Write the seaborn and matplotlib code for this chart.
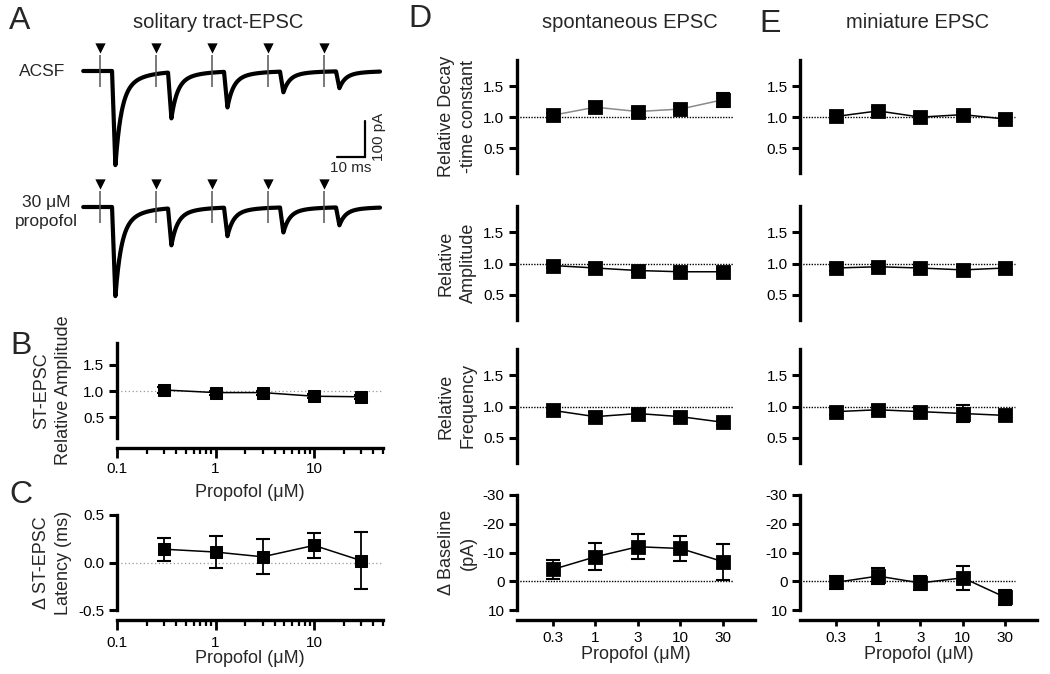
import numpy as np
import matplotlib
matplotlib.use("Agg")
import matplotlib.pyplot as plt
import seaborn as sns
from matplotlib.ticker import FixedLocator, LogLocator, NullFormatter

# ---- data ----
# A: evoked ST-EPSC trains (50 Hz), peak amplitudes in pA
stim_times_ms = [0, 20, 40, 60, 80]
acsf_amp_pA = [264, 128, 100, 58, 47]
propofol_amp_pA = [250, 103, 80, 70, 50]

# concentrations
conc_um = [0.3, 1, 3, 10, 30]
conc_labels = ["0.3", "1", "3", "10", "30"]

# B / C: ST-EPSC
st_amp = [1.02, 0.97, 0.97, 0.90, 0.89]
st_amp_err = [0.05, 0.04, 0.04, 0.04, 0.04]
st_lat = [0.14, 0.11, 0.06, 0.18, 0.02]
st_lat_err = [0.12, 0.165, 0.185, 0.135, 0.30]

# D: spontaneous EPSC
sp_decay = [1.03, 1.16, 1.09, 1.13, 1.28]
sp_decay_err = [0.04, 0.08, 0.05, 0.05, 0.11]
sp_amp = [0.97, 0.93, 0.89, 0.87, 0.87]
sp_amp_err = [0.04, 0.04, 0.03, 0.03, 0.04]
sp_freq = [0.94, 0.84, 0.89, 0.84, 0.75]
sp_freq_err = [0.04, 0.07, 0.05, 0.05, 0.04]
sp_base = [-4.1, -8.5, -12.0, -11.4, -6.8]
sp_base_err = [3.2, 4.7, 4.4, 4.2, 6.3]

# E: miniature EPSC
mini_decay = [1.01, 1.10, 1.00, 1.04, 0.97]
mini_decay_err = [0.04, 0.07, 0.04, 0.05, 0.04]
mini_amp = [0.93, 0.95, 0.93, 0.90, 0.93]
mini_amp_err = [0.04, 0.04, 0.04, 0.04, 0.04]
mini_freq = [0.92, 0.95, 0.92, 0.89, 0.86]
mini_freq_err = [0.06, 0.07, 0.07, 0.14, 0.06]
mini_base = [0.4, -1.8, 0.6, -1.2, 5.6]
mini_base_err = [2.2, 2.9, 2.3, 4.1, 2.5]

# ---- style ----
sns.set_theme(style="ticks")
plt.rcParams["font.family"] = ["Liberation Sans", "DejaVu Sans"]
plt.rcParams["axes.unicode_minus"] = False
plt.rcParams["axes.linewidth"] = 2.4

TICK_FS = 11
LABEL_FS = 13
TITLE_FS = 14.5
LETTER_FS = 23

W, H = 1050, 674
fig = plt.figure(figsize=(W / 100, H / 100), dpi=100)


def add_px_axes(left, top, right, bottom):
    return fig.add_axes([left / W, 1 - bottom / H, (right - left) / W, (bottom - top) / H])


def fig_text(x, y, s, **kw):
    fig.text(x / W, 1 - y / H, s, **kw)


def style_axis(ax, left_px, right_px, label_right_px, ylabel=None):
    ax.tick_params(axis="y", length=6, width=2.2, labelsize=TICK_FS, pad=3, colors="black")
    ax.tick_params(axis="x", length=4, width=2.0, labelsize=TICK_FS, pad=4, colors="black")
    for s in ax.spines.values():
        s.set_linewidth(2.4)
        s.set_color("black")
    if ylabel:
        ax.set_ylabel(ylabel, fontsize=LABEL_FS, linespacing=1.4)
        ax.yaxis.set_label_coords((label_right_px - left_px) / (right_px - left_px), 0.5)
    else:
        ax.set_ylabel("")


# ---- A: traces ----
latency_ms, rise_ms = 4.3, 1.2


def epsc_train(t, amps):
    y = np.zeros_like(t)
    for t0, a in zip(stim_times_ms, amps):
        dt = t - (t0 + latency_ms)
        rising = np.clip(dt / rise_ms, 0, 1)
        td = np.clip(dt - rise_ms, 0, None)
        shape = np.where(dt < rise_ms, rising, 0.75 * np.exp(-td / 2.0) + 0.25 * np.exp(-td / 7.0))
        y -= a * shape
    return y


px_per_ms, px_per_pA = 2.8, 0.36
stim_px, acsf_base_px, prop_base_px = 100, 71, 207
ax_tr = add_px_axes(80, 40, 390, 310)
t = np.linspace(-6, 100, 2400)
prop_offset = -(prop_base_px - acsf_base_px) / px_per_pA
for amps, base in [(acsf_amp_pA, 0.0), (propofol_amp_pA, prop_offset)]:
    sns.lineplot(x=t, y=epsc_train(t, amps) + base, ax=ax_tr, color="black", lw=3.0,
                 estimator=None, sort=False)
    ax_tr.vlines(stim_times_ms, base - 45, base + 45, color="#555555", lw=1.1, zorder=3)
    sns.scatterplot(x=stim_times_ms, y=[base + 64] * len(stim_times_ms), ax=ax_tr,
                    marker="v", s=55, color="black", linewidth=0)
ax_tr.set_xlim(-(stim_px - 80) / px_per_ms, (390 - stim_px) / px_per_ms)
ax_tr.set_ylim(-(310 - acsf_base_px) / px_per_pA, (acsf_base_px - 40) / px_per_pA)
ax_tr.axis("off")
# scale bar: 10 ms, 100 pA
sb_x, sb_y = (365 - stim_px) / px_per_ms, -(157 - acsf_base_px) / px_per_pA
ax_tr.plot([sb_x - 10, sb_x, sb_x], [sb_y, sb_y, sb_y + 100], color="black", lw=1.6,
           solid_joinstyle="miter")
ax_tr.text(sb_x - 5, sb_y - 12, "10 ms", ha="center", va="top", fontsize=11)
ax_tr.text(sb_x + 2.5, sb_y + 55, "100 pA", ha="left", va="center", rotation=90, fontsize=11)

fig_text(65, 72, "ACSF", ha="right", va="center", fontsize=12.5)
fig_text(46, 212, "30 \u03bcM\npropofol", ha="center", va="center", fontsize=12.5, linespacing=1.35)
fig_text(218, 22, "solitary tract-EPSC", ha="center", va="center", fontsize=TITLE_FS)


# ---- B, C: log-x panels ----
def log_panel(rect, vals, errs, ref, ylim, yticks, ylabel):
    ax = add_px_axes(*rect)
    ax.axhline(ref, color="#9a9a9a", ls=(0, (1, 2)), lw=0.9, zorder=0)
    ax.errorbar(conc_um, vals, yerr=errs, fmt="none", ecolor="black", elinewidth=1.3,
                capsize=5, capthick=1.5, zorder=2)
    sns.lineplot(x=conc_um, y=vals, ax=ax, color="black", lw=1.1, marker="s", markersize=9,
                 markeredgecolor="black", zorder=3)
    ax.set_xscale("log")
    ax.set_xlim(0.1, 50)
    ax.set_ylim(*ylim)
    ax.xaxis.set_major_locator(FixedLocator([0.1, 1, 10]))
    ax.set_xticklabels(["0.1", "1", "10"])
    ax.xaxis.set_minor_locator(LogLocator(base=10, subs=np.arange(2, 10)))
    ax.xaxis.set_minor_formatter(NullFormatter())
    ax.set_yticks(yticks)
    ax.set_yticklabels([f"{v:.1f}" for v in yticks])
    sns.despine(ax=ax, offset={"bottom": 7, "left": 0})
    style_axis(ax, rect[0], rect[2], 72, ylabel)
    ax.tick_params(axis="x", which="major", length=7, width=2.0, pad=3)
    ax.tick_params(axis="x", which="minor", length=4, width=1.6, colors="black")
    ax.set_xlabel("Propofol (\u03bcM)", fontsize=LABEL_FS, labelpad=6)
    return ax


ax_b = log_panel((117, 343, 383, 438), st_amp, st_amp_err, 1.0, (0.1, 1.92), [0.5, 1.0, 1.5],
                 "ST-EPSC\nRelative Amplitude")
ax_c = log_panel((117, 515, 383, 610), st_lat, st_lat_err, 0.0, (-0.5, 0.5), [-0.5, 0.0, 0.5],
                 "\u0394 ST-EPSC\nLatency (ms)")
ax_c.xaxis.labelpad = 0
ax_c.tick_params(axis="x", which="major", pad=5)

# ---- D, E: categorical panels ----
row_px = [(60, 173), (206, 320), (349, 463), (495, 610)]
col_px = {"D": (517, 755, 477), "E": (800, 1037, None)}
rel_ticks = [0.5, 1.0, 1.5]
base_ticks = [-30, -20, -10, 0, 10]

columns = {
    "D": [(sp_decay, sp_decay_err, "#8a8a8a"), (sp_amp, sp_amp_err, "black"),
          (sp_freq, sp_freq_err, "black"), (sp_base, sp_base_err, "black")],
    "E": [(mini_decay, mini_decay_err, "black"), (mini_amp, mini_amp_err, "black"),
          (mini_freq, mini_freq_err, "black"), (mini_base, mini_base_err, "black")],
}
row_labels = ["Relative Decay\n-time constant", "Relative\nAmplitude", "Relative\nFrequency",
              "\u0394 Baseline\n(pA)"]

pos = np.arange(len(conc_labels))
for col, (left, right, lab_px) in col_px.items():
    for r, ((top, bottom), (vals, errs, lcolor)) in enumerate(zip(row_px, columns[col])):
        ax = add_px_axes(left, top, right, bottom)
        is_base = r == 3
        ref = 0.0 if is_base else 1.0
        ax.axhline(ref, xmin=0, xmax=(4.23 + 0.84) / (4.75 + 0.84), color="black",
                   ls=(0, (1, 1)), lw=1.0, zorder=0)
        sns.lineplot(x=pos, y=vals, ax=ax, color=lcolor, lw=1.1, zorder=1)
        ax.errorbar(pos, vals, yerr=errs, fmt="none", ecolor="black", elinewidth=1.3,
                    capsize=5, capthick=1.5, zorder=2)
        sns.pointplot(x=conc_labels, y=vals, ax=ax, color="black", markers="s",
                      linestyles="none", markersize=9, errorbar=None, zorder=3)
        ax.set_xlim(-0.84, 4.75)
        if is_base:
            ax.set_ylim(10, -30)
            ax.set_yticks(base_ticks)
            ax.set_yticklabels([str(v) for v in base_ticks])
            sns.despine(ax=ax, offset={"bottom": 7, "left": 0})
            ax.set_xticks(pos)
            ax.set_xticklabels(conc_labels)
            ax.set_xlabel("Propofol (\u03bcM)", fontsize=LABEL_FS, labelpad=1)
        else:
            ax.set_ylim(0.1, 1.92)
            ax.set_yticks(rel_ticks)
            ax.set_yticklabels([f"{v:.1f}" for v in rel_ticks])
            sns.despine(ax=ax, bottom=True)
            ax.tick_params(axis="x", bottom=False, labelbottom=False)
            ax.set_xlabel("")
        style_axis(ax, left, right, lab_px if lab_px else 0,
                   row_labels[r] if lab_px else None)
        ax.grid(False)

fig_text(630, 22, "spontaneous EPSC", ha="center", va="center", fontsize=TITLE_FS)
fig_text(918, 22, "miniature EPSC", ha="center", va="center", fontsize=TITLE_FS)

# panel letters
for letter, x, y in [("A", 20, 21), ("B", 21, 346), ("C", 21, 495), ("D", 420, 19), ("E", 770, 24)]:
    fig_text(x, y, letter, ha="center", va="center", fontsize=LETTER_FS)

fig.savefig("out.png", dpi=100)
